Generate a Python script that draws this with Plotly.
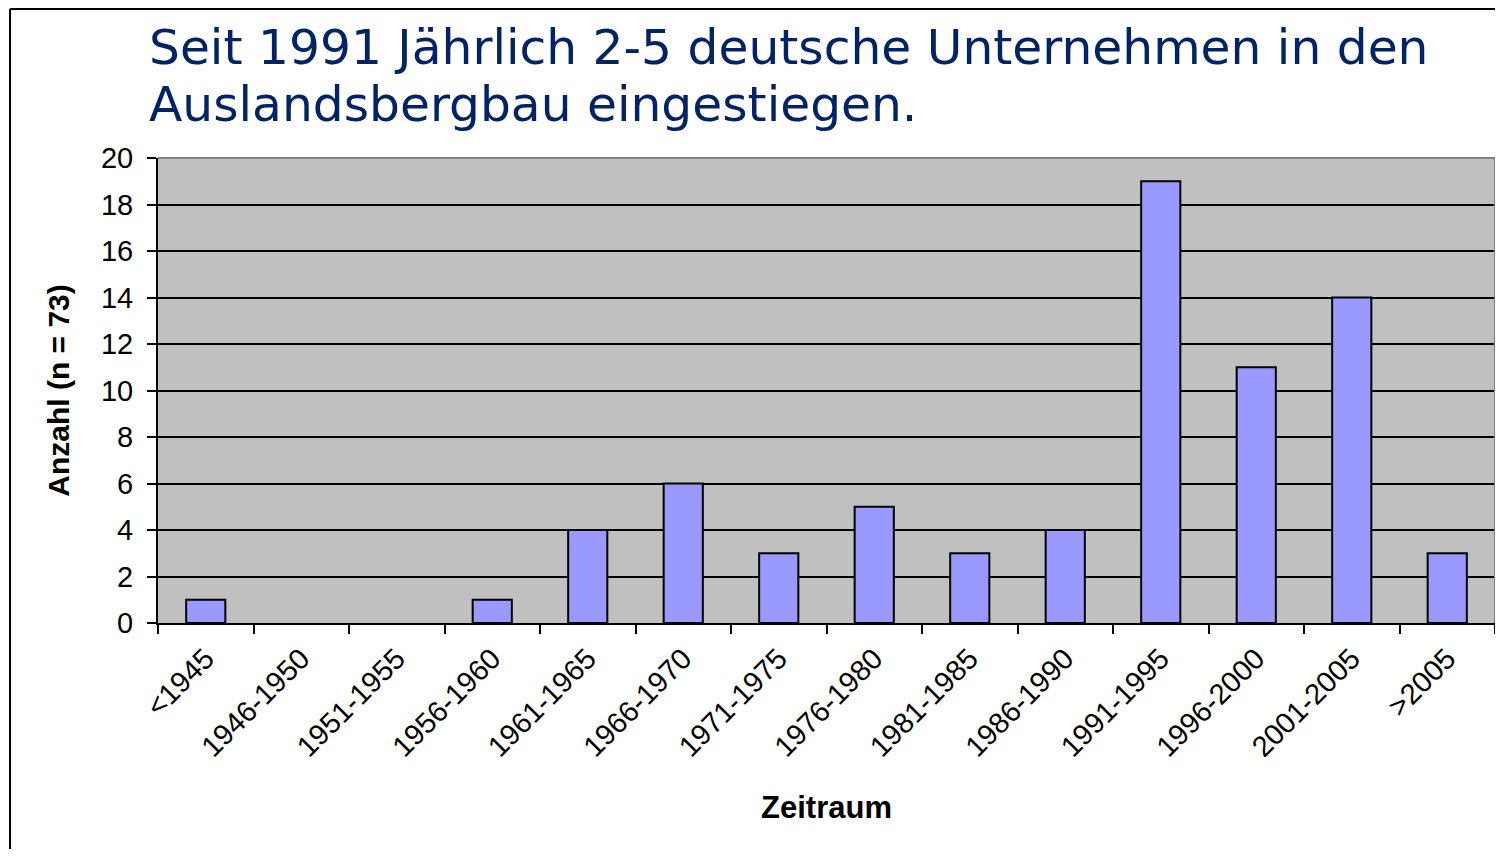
import plotly.graph_objects as go

categories = ["<1945", "1946-1950", "1951-1955", "1956-1960", "1961-1965", "1966-1970",
              "1971-1975", "1976-1980", "1981-1985", "1986-1990", "1991-1995",
              "1996-2000", "2001-2005", ">2005"]
values = [1, 0, 0, 1, 4, 6, 3, 5, 3, 4, 19, 11, 14, 3]
y_ticks = list(range(0, 21, 2))
title_lines = ["Seit 1991 Jährlich 2-5 deutsche Unternehmen in den",
               "Auslandsbergbau eingestiegen."]

OFF = 8  # page body margin
W, H = 1503 - 2 * OFF, 857 - 2 * OFF
# plot area in page pixels, converted to figure pixels
L, R, T, B = 158 - OFF, 1495 - OFF, 158 - OFF, 623 - OFF
pw, ph = R - L, B - T

def px(x):  # page x -> paper
    return (x - OFF - L) / pw

def py(y):  # page y -> paper
    return (B - (y - OFF)) / ph

fig = go.Figure()
fig.add_trace(go.Bar(
    x=categories, y=values, width=0.41,
    marker=dict(color="#9999FF",
                line=dict(color="black", width=[2 if v > 0 else 0 for v in values])),
))

fig.update_layout(
    width=W, height=H,
    margin=dict(l=L, r=W - R, t=T, b=H - B, pad=0),
    paper_bgcolor="white", plot_bgcolor="#C0C0C0",
    showlegend=False,
    font=dict(family="Liberation Sans, Arial", color="black"),
    xaxis=dict(
        type="category", tickson="boundaries", ticks="outside", ticklen=9,
        tickwidth=2, tickcolor="black", tickangle=-45, ticklabelstandoff=5,
        tickfont=dict(size=29, family="Liberation Sans, Arial"),
        showline=True, linecolor="black", linewidth=2,
        showgrid=False,
        title=dict(text="<b>Zeitraum</b>", font=dict(size=31), standoff=34),
    ),
    yaxis=dict(
        range=[0, 20], tickvals=y_ticks, ticks="outside", ticklen=9,
        tickwidth=2, tickcolor="black", ticklabelstandoff=8,
        tickfont=dict(size=29, family="Liberation Sans, Arial"),
        showline=True, linecolor="black", linewidth=2,
        showgrid=True, gridcolor="black", gridwidth=2,
        zeroline=False,
        title=dict(text="<b>Anzahl (n = 73)</b>", font=dict(size=30), standoff=22),
    ),
    annotations=[
        dict(text=title_lines[0], xref="paper", yref="paper", x=px(147), y=py(17),
             xanchor="left", yanchor="top", align="left", showarrow=False,
             font=dict(family="DejaVu Sans", size=48.7, color="#002266")),
        dict(text=title_lines[1], xref="paper", yref="paper", x=px(147), y=py(74),
             xanchor="left", yanchor="top", align="left", showarrow=False,
             font=dict(family="DejaVu Sans", size=48.7, color="#002266")),
    ],
    shapes=[
        dict(type="line", xref="paper", yref="paper", x0=px(10), x1=px(10),
             y0=py(9), y1=py(870), line=dict(color="black", width=2)),
        dict(type="line", xref="paper", yref="paper", x0=px(10), x1=px(1520),
             y0=py(9), y1=py(9), line=dict(color="black", width=2)),
        dict(type="line", xref="paper", yref="paper", x0=0, x1=1,
             y0=1, y1=1, line=dict(color="#808080", width=2)),
        dict(type="line", xref="paper", yref="paper", x0=1, x1=1,
             y0=0, y1=1, line=dict(color="#808080", width=2)),
    ],
)

fig.write_html("out.html")
